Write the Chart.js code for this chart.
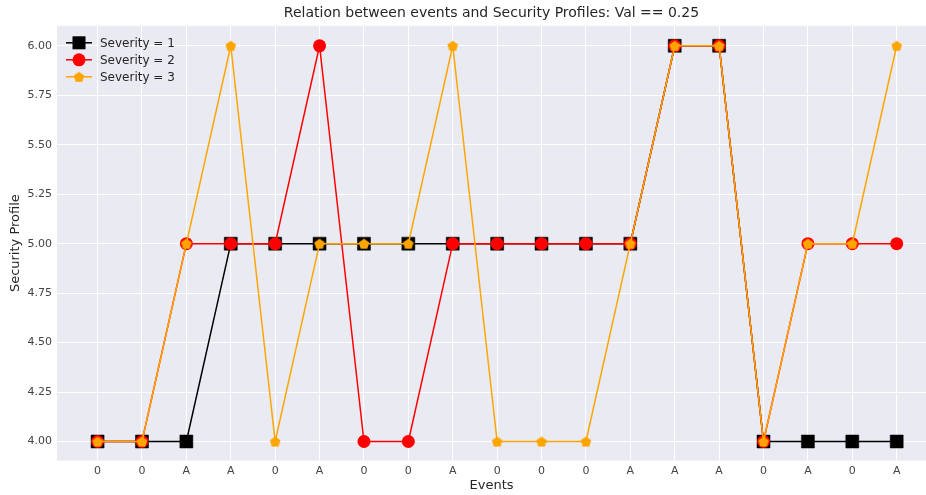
<!DOCTYPE html>
<html>
<head>
<meta charset="utf-8">
<script src="https://cdn.jsdelivr.net/npm/chart.js@4/dist/chart.umd.min.js"></script>
<style>
  html, body { margin: 0; padding: 0; background: #fff; }
  #wrap { width: 926px; height: 495px; position: relative; }
</style>
</head>
<body>
<div id="wrap"><canvas id="myChart" width="926" height="495"></canvas></div>
<script>
// Data
var eventLabels = ['0','0','A','A','0','A','0','0','A','0','0','0','A','A','A','0','A','0','A'];
var severity1 = [4,4,4,5,5,5,5,5,5,5,5,5,5,6,6,4,4,4,4];
var severity2 = [4,4,5,5,5,6,4,4,5,5,5,5,5,6,6,4,5,5,5];
var severity3 = [4,4,5,6,4,5,5,5,6,4,4,4,5,6,6,4,5,5,6];
var yTicks = [4.00,4.25,4.50,4.75,5.00,5.25,5.50,5.75,6.00];
var seriesNames = ['Severity = 1','Severity = 2','Severity = 3'];

var FONT = "'DejaVu Sans', sans-serif";

function toPoints(arr) {
    return arr.map((v, i) => ({x: i, y: v}));
}

// pentagon marker (chart.js has no pentagon point style)
function makePentagon(r, color) {
    var c = document.createElement('canvas');
    var s = Math.ceil(r * 2 + 2);
    c.width = s; c.height = s;
    var g = c.getContext('2d');
    g.fillStyle = color;
    g.beginPath();
    for (var k = 0; k < 5; k++) {
        var a = -Math.PI / 2 + k * 2 * Math.PI / 5;
        var px = s / 2 + r * Math.cos(a);
        var py = s / 2 + r * Math.sin(a) + 0.5;
        if (k == 0) g.moveTo(px, py); else g.lineTo(px, py);
    }
    g.closePath();
    g.fill();
    return c;
}
var pentagon = makePentagon(5.6, '#ffa500');

// background of the plot area
var bgPlugin = {
    id: 'bg',
    beforeDraw: function (chart) {
        var a = chart.chartArea, ctx = chart.ctx;
        ctx.save();
        ctx.fillStyle = '#eaeaf2';
        ctx.fillRect(a.left, a.top, a.right - a.left, a.bottom - a.top);
        ctx.restore();
    }
};

// matplotlib style legend: line with marker in the middle
var legendPlugin = {
    id: 'mplLegend',
    afterDraw: function (chart) {
        var ctx = chart.ctx, a = chart.chartArea;
        var x0 = a.left + 9, x1 = a.left + 35, xm = (x0 + x1) / 2;
        var ys = [a.top + 17, a.top + 34, a.top + 51];
        var colors = ['#000000', '#ff0000', '#ffa500'];
        ctx.save();
        for (var i = 0; i < 3; i++) {
            ctx.strokeStyle = colors[i];
            ctx.lineWidth = 1.5;
            ctx.beginPath();
            ctx.moveTo(x0, ys[i]);
            ctx.lineTo(x1, ys[i]);
            ctx.stroke();
            ctx.fillStyle = colors[i];
            if (i == 0) {
                ctx.fillRect(xm - 6.5, ys[i] - 6.5, 13, 13);
            } else if (i == 1) {
                ctx.beginPath();
                ctx.arc(xm, ys[i], 6.5, 0, Math.PI * 2);
                ctx.fill();
            } else {
                ctx.drawImage(pentagon, xm - pentagon.width / 2, ys[i] - pentagon.height / 2);
            }
            ctx.fillStyle = '#262626';
            ctx.font = '12px ' + FONT;
            ctx.textBaseline = 'middle';
            ctx.fillText(seriesNames[i], a.left + 43, ys[i] + 1);
        }
        ctx.restore();
    }
};

var ctx = document.getElementById('myChart').getContext('2d');
var myChart = new Chart(ctx, {
    type: 'line',
    data: {
        datasets: [{
            label: seriesNames[0],
            data: toPoints(severity1),
            borderColor: '#000000',
            backgroundColor: '#000000',
            borderWidth: 1.5,
            pointStyle: 'rect',
            pointRadius: 9.2,
            pointBorderWidth: 0.5,
            pointBorderColor: '#000000',
            order: 3
        }, {
            label: seriesNames[1],
            data: toPoints(severity2),
            borderColor: '#ff0000',
            backgroundColor: '#ff0000',
            borderWidth: 1.5,
            pointStyle: 'circle',
            pointRadius: 6.5,
            pointBorderWidth: 0,
            order: 2
        }, {
            label: seriesNames[2],
            data: toPoints(severity3),
            borderColor: '#ffa500',
            backgroundColor: '#ffa500',
            borderWidth: 1.5,
            pointStyle: pentagon,
            pointRadius: 6,
            order: 1
        }]
    },
    options: {
        responsive: false,
        animation: false,
        maintainAspectRatio: false,
        layout: { padding: 0, autoPadding: false },
        elements: { line: { tension: 0 } },
        plugins: {
            legend: { display: false },
            tooltip: { enabled: false },
            title: {
                display: true,
                fullSize: false,
                text: 'Relation between events and Security Profiles: Val == 0.25',
                color: '#262626',
                font: { family: FONT, size: 14, weight: 'normal' },
                padding: { top: 5, bottom: 4 }
            }
        },
        scales: {
            x: {
                type: 'linear',
                min: -0.914,
                max: 18.66,
                afterBuildTicks: function (scale) {
                    scale.ticks = eventLabels.map((l, i) => ({value: i}));
                },
                afterFit: function (scale) { scale.height = 34.5; },
                ticks: {
                    autoSkip: false,
                    maxRotation: 0,
                    padding: 4,
                    color: '#444',
                    font: { family: FONT, size: 11 },
                    callback: function (v) { return eventLabels[v]; }
                },
                grid: { color: '#ffffff', lineWidth: 1, drawTicks: false },
                border: { display: false },
                title: {
                    display: true,
                    text: 'Events',
                    color: '#262626',
                    font: { family: FONT, size: 13 },
                    padding: { top: 0, bottom: 2 }
                }
            },
            y: {
                min: 3.904,
                max: 6.101,
                afterBuildTicks: function (scale) {
                    scale.ticks = yTicks.map(v => ({value: v}));
                },
                afterFit: function (scale) { scale.width = 57; },
                ticks: {
                    padding: 5,
                    color: '#444',
                    font: { family: FONT, size: 11 },
                    callback: function (v) { return Number(v).toFixed(2); }
                },
                grid: { color: '#ffffff', lineWidth: 1, drawTicks: false },
                border: { display: false },
                title: {
                    display: true,
                    text: 'Security Profile',
                    color: '#262626',
                    font: { family: FONT, size: 13 },
                    padding: { top: 8, bottom: 0 }
                }
            }
        }
    },
    plugins: [bgPlugin, legendPlugin]
});
</script>
</body>
</html>
